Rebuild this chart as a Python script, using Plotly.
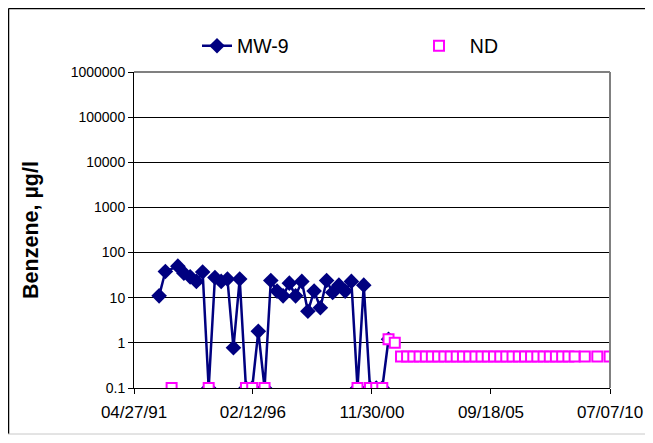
import plotly.graph_objects as go

# MW-9 benzene results (ug/l); ND results plotted at reporting value
mw9_dates = [
    "1992-05-01", "1992-08-01", "1993-02-01", "1993-05-01", "1993-08-01",
    "1993-11-01", "1994-02-01", "1994-05-01", "1994-08-01", "1994-11-01",
    "1995-02-01", "1995-05-01", "1995-08-01", "1995-11-01", "1996-02-01",
    "1996-05-01", "1996-08-01", "1996-11-01", "1997-02-01", "1997-05-01",
    "1997-08-01", "1997-11-01", "1998-02-01", "1998-05-01", "1998-08-01",
    "1998-11-01", "1999-02-01", "1999-05-01", "1999-08-01", "1999-11-01",
    "2000-02-01", "2000-05-01", "2000-08-01", "2000-11-01", "2001-02-01",
    "2001-05-01", "2001-08-01",
]
mw9_values = [
    11, 38, 50, 35, 29,
    23, 37, 0.1, 28, 23,
    26, 0.78, 26, 0.1, 0.1,
    1.8, 0.1, 24, 14, 11,
    21, 11, 23, 5, 14,
    6, 24, 13, 19, 14,
    23, 0.1, 19, 0.1, 0.1,
    0.1, 1.2,
]

nd_dates = [
    "1992-11-01", "1994-05-01", "1995-11-01", "1996-02-01", "1996-08-01",
    "2000-05-01", "2000-11-01", "2001-02-01", "2001-05-01", "2001-08-01",
    "2001-11-01", "2002-02-01", "2002-05-01", "2002-08-01", "2002-11-01",
    "2003-02-01", "2003-05-01", "2003-08-01", "2003-11-01", "2004-02-01",
    "2004-05-01", "2004-08-01", "2004-11-01", "2005-02-01", "2005-05-01",
    "2005-08-01", "2005-11-01", "2006-02-01", "2006-05-01", "2006-08-01",
    "2006-11-01", "2007-02-01", "2007-05-01", "2007-08-01", "2007-11-01",
    "2008-02-01", "2008-05-01", "2008-08-01", "2008-11-01", "2009-02-01",
    "2009-07-01", "2010-01-01", "2010-07-01",
]
nd_values = [
    0.1, 0.1, 0.1, 0.1, 0.1,
    0.1, 0.1, 0.1, 0.1, 1.2,
    1.0, 0.5, 0.5, 0.5, 0.5,
    0.5, 0.5, 0.5, 0.5, 0.5,
    0.5, 0.5, 0.5, 0.5, 0.5,
    0.5, 0.5, 0.5, 0.5, 0.5,
    0.5, 0.5, 0.5, 0.5, 0.5,
    0.5, 0.5, 0.5, 0.5, 0.5,
    0.5, 0.5, 0.5,
]

x_tick_dates = ["1991-04-27", "1996-02-12", "2000-11-30", "2005-09-18", "2010-07-07"]
x_tick_labels = ["04/27/91", "02/12/96", "11/30/00", "09/18/05", "07/07/10"]
y_tick_vals = [0.1, 1, 10, 100, 1000, 10000, 100000, 1000000]
y_tick_labels = ["0.1", "1", "10", "100", "1000", "10000", "100000", "1000000"]

FONT = "Liberation Sans, Arial, sans-serif"
NAVY = "#000080"
MAGENTA = "#FF00FF"

fig = go.Figure()
fig.add_trace(go.Scatter(
    x=mw9_dates, y=mw9_values, name="MW-9", mode="lines+markers",
    line=dict(color=NAVY, width=2.5),
    marker=dict(symbol="diamond", size=12, color=NAVY),
    legendwidth=177,
))
fig.add_trace(go.Scatter(
    x=nd_dates, y=nd_values, name="\u00a0\u00a0ND", mode="markers",
    marker=dict(symbol="square", size=10, color="white",
                line=dict(color=MAGENTA, width=2)),
))

# page offset (browser body margin) is 8px
OFF = 8
W, H = 637, 427
PL, PR, PT, PB = 134, 610, 72, 388  # plot area in page pixels
L, T = PL - OFF, PT - OFF
R = W - (PR - OFF)
B = H - (PB - OFF)
pw, ph = PR - PL, PB - PT

def px(xp):
    return (xp - PL) / pw

def py(yp):
    return (PB - yp) / ph

fig.update_layout(
    width=W, height=H,
    margin=dict(l=L, r=R, t=T, b=B, autoexpand=False),
    paper_bgcolor="white", plot_bgcolor="white",
    font=dict(family=FONT, color="black"),
    showlegend=True,
    legend=dict(
        orientation="h", x=px(197), y=py(46), xanchor="left", yanchor="middle",
        font=dict(size=19.5, family=FONT),
        bgcolor="rgba(0,0,0,0)", borderwidth=0,
    ),
    xaxis=dict(
        type="date",
        range=[x_tick_dates[0], x_tick_dates[-1]],
        tickmode="array", tickvals=x_tick_dates, ticktext=x_tick_labels,
        ticks="outside", ticklen=5, tickcolor="black",
        tickfont=dict(size=17, family=FONT),
        ticklabelstandoff=4,
        showgrid=False, zeroline=False,
        showline=True, linecolor="black", linewidth=1,
        mirror=False,
    ),
    yaxis=dict(
        type="log", range=[-1, 6],
        tickmode="array", tickvals=y_tick_vals, ticktext=y_tick_labels,
        ticks="outside", ticklen=5, tickcolor="black",
        tickfont=dict(size=14, family=FONT),
        showgrid=True, gridcolor="#000000", gridwidth=1,
        zeroline=False,
        showline=True, linecolor="black", linewidth=1,
        title=dict(text="<b>Benzene, µg/l</b>", font=dict(size=21.5, family=FONT), standoff=26),
    ),
    shapes=[
        # plot-area border (top and right), gray
        dict(type="line", xref="paper", yref="paper", x0=0, x1=1, y0=1, y1=1,
             line=dict(color="#808080", width=2)),
        dict(type="line", xref="paper", yref="paper", x0=1, x1=1, y0=0, y1=1,
             line=dict(color="#808080", width=2)),
        # chart outer border
        dict(type="line", xref="paper", yref="paper", x0=px(8.5), x1=px(645), y0=py(8.5), y1=py(8.5),
             line=dict(color="black", width=1.5)),
        dict(type="line", xref="paper", yref="paper", x0=px(8.5), x1=px(8.5), y0=py(8.5), y1=py(434),
             line=dict(color="black", width=1.5)),
        dict(type="line", xref="paper", yref="paper", x0=px(8), x1=px(645), y0=py(434), y1=py(434),
             line=dict(color="#c8c8c8", width=1)),
    ],
)

fig.write_html(
    "out.html",
    post_script="document.documentElement.style.overflow='hidden';document.body.style.overflow='hidden';",
)
